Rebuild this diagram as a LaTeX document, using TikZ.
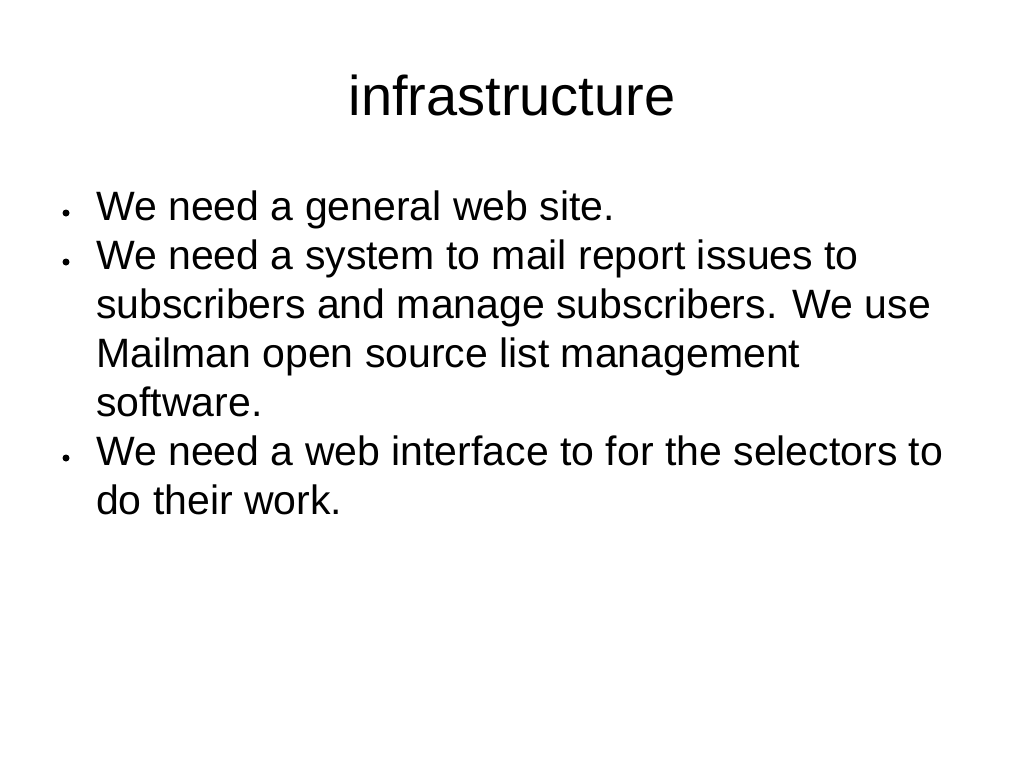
\documentclass[tikz,border=0pt]{standalone}
\usepackage{fontspec}
\setmainfont{Liberation Sans}
\begin{document}
\begin{tikzpicture}[x=1pt,y=-1pt,
  body/.style={anchor=base west,inner sep=0pt,font=\fontsize{41}{49}\selectfont},
  dot/.style={fill=black,circle,inner sep=0pt,minimum size=7pt}]
\useasboundingbox (0,0) rectangle (1024,768);
\node[anchor=base,inner sep=0pt,font=\fontsize{56}{60}\selectfont] (title) at (512,115) {infrastructure};
\node[dot] (b1) at (66,213) {};
\node[body] (l1) at (96,220) {We need a general web site.};
\node[dot] (b2) at (66,262) {};
\node[body] (l2) at (96,269) {We need a system to mail report issues to};
\node[body] (l3) at (96,318) {subscribers and manage subscribers. We use};
\node[body] (l4) at (96,367) {Mailman open source list management};
\node[body] (l5) at (96,416) {software.};
\node[dot] (b3) at (66,458) {};
\node[body] (l6) at (96,465) {We need a web interface to for the selectors to};
\node[body] (l7) at (96,514) {do their work.};
\end{tikzpicture}
\end{document}
